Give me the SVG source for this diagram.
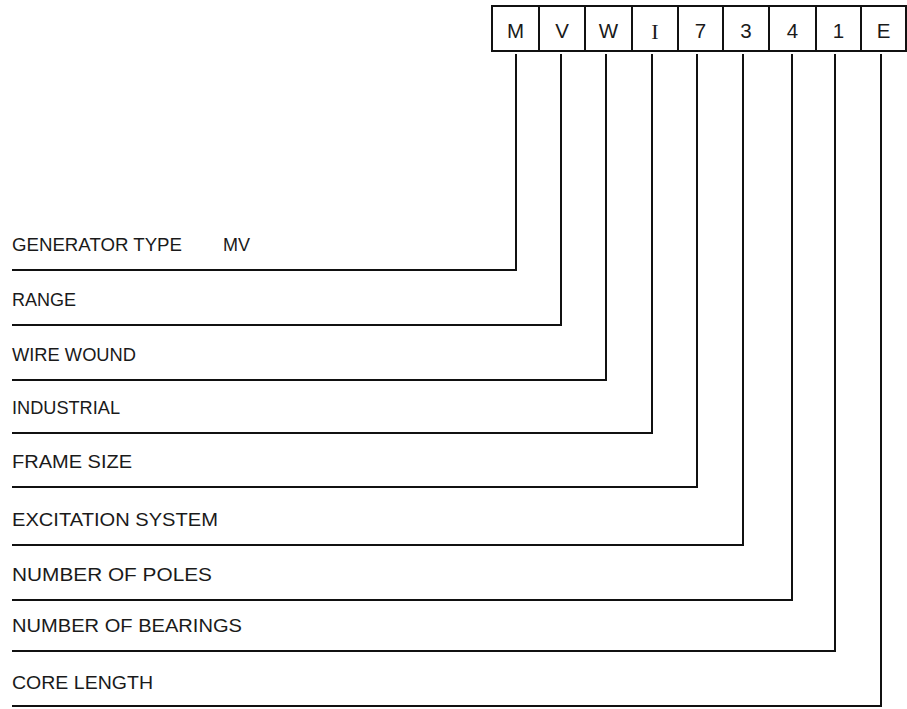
<svg xmlns="http://www.w3.org/2000/svg" width="907" height="709" viewBox="0 0 907 709">
  <style>
    .cell { fill: #ffffff; stroke: #111111; stroke-width: 2; }
    .code { font-family: "Liberation Sans", Arial, sans-serif; font-size: 20.5px; fill: #1a1a1a; text-anchor: middle; }
    .code-serif { font-family: "Liberation Serif", "Times New Roman", serif; font-size: 22px; fill: #1a1a1a; text-anchor: middle; }
    .label { font-family: "Liberation Sans", Arial, sans-serif; font-size: 18px; fill: #1a1a1a; }
    .lead { fill: none; stroke: #111111; stroke-width: 2; stroke-linejoin: miter; }
  </style>
  <rect width="907" height="709" fill="#ffffff"/>

  <!-- code boxes -->
  <g id="box-M"><rect class="cell" x="492" y="6" width="47" height="45"/><text class="code" x="515.5" y="37.5">M</text></g>
  <g id="box-V"><rect class="cell" x="539" y="6" width="46" height="45"/><text class="code" x="562" y="37.5">V</text></g>
  <g id="box-W"><rect class="cell" x="585" y="6" width="47" height="45"/><text class="code" x="608.5" y="37.5">W</text></g>
  <g id="box-I"><rect class="cell" x="632" y="6" width="46" height="45"/><text class="code-serif" x="655" y="38.5">I</text></g>
  <g id="box-7"><rect class="cell" x="678" y="6" width="45" height="45"/><text class="code" x="700.5" y="37.5">7</text></g>
  <g id="box-3"><rect class="cell" x="723" y="6" width="46" height="45"/><text class="code" x="746" y="37.5">3</text></g>
  <g id="box-4"><rect class="cell" x="769" y="6" width="47" height="45"/><text class="code" x="792.5" y="37.5">4</text></g>
  <g id="box-1"><rect class="cell" x="816" y="6" width="45" height="45"/><text class="code" x="838.5" y="37.5">1</text></g>
  <g id="box-E"><rect class="cell" x="861" y="6" width="45" height="45"/><text class="code" x="883.5" y="37.5">E</text></g>

  <!-- field labels -->
  <g id="label-generator-type">
    <text class="label" x="12" y="250.5" textLength="170" lengthAdjust="spacingAndGlyphs">GENERATOR TYPE</text>
    <text class="label" x="223" y="250.5">MV</text>
  </g>
  <g id="label-range"><text class="label" x="12" y="305.5" textLength="64" lengthAdjust="spacingAndGlyphs">RANGE</text></g>
  <g id="label-wire-wound"><text class="label" x="12" y="360.5" textLength="124" lengthAdjust="spacingAndGlyphs">WIRE WOUND</text></g>
  <g id="label-industrial"><text class="label" x="12" y="413.5" textLength="108" lengthAdjust="spacingAndGlyphs">INDUSTRIAL</text></g>
  <g id="label-frame-size"><text class="label" x="12" y="467.5" textLength="120" lengthAdjust="spacingAndGlyphs">FRAME SIZE</text></g>
  <g id="label-excitation-system"><text class="label" x="12" y="525.5" textLength="206" lengthAdjust="spacingAndGlyphs">EXCITATION SYSTEM</text></g>
  <g id="label-number-of-poles"><text class="label" x="12" y="580.5" textLength="200" lengthAdjust="spacingAndGlyphs">NUMBER OF POLES</text></g>
  <g id="label-number-of-bearings"><text class="label" x="12" y="631.5" textLength="230" lengthAdjust="spacingAndGlyphs">NUMBER OF BEARINGS</text></g>
  <g id="label-core-length"><text class="label" x="12" y="688.5" textLength="141" lengthAdjust="spacingAndGlyphs">CORE LENGTH</text></g>

  <!-- leader lines from each box down and left under its label -->
  <g id="connectors">
    <polyline class="lead" points="516,54 516,270 12,270"/>
    <polyline class="lead" points="561,54 561,325 12,325"/>
    <polyline class="lead" points="606,54 606,380 12,380"/>
    <polyline class="lead" points="652,54 652,433 12,433"/>
    <polyline class="lead" points="697,54 697,487 12,487"/>
    <polyline class="lead" points="743,54 743,545 12,545"/>
    <polyline class="lead" points="792,54 792,600 12,600"/>
    <polyline class="lead" points="835,54 835,651 12,651"/>
    <polyline class="lead" points="881,54 881,706 12,706"/>
  </g>
</svg>
